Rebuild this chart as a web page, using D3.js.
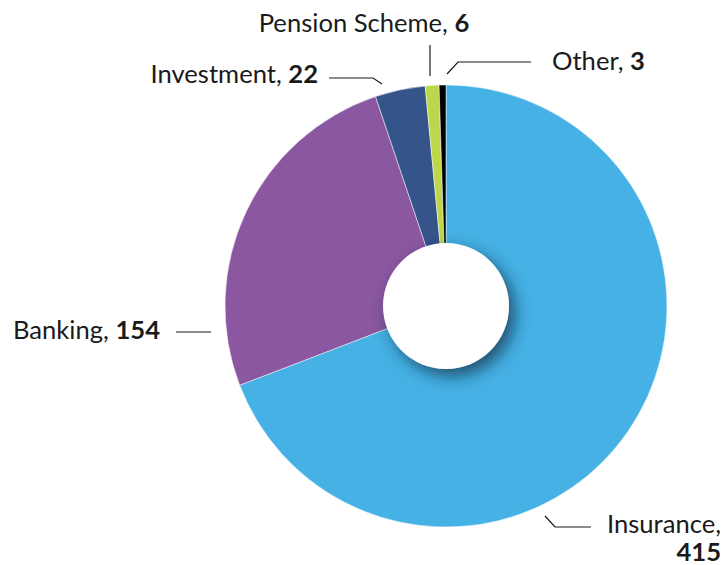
<!DOCTYPE html>
<html>
<head>
<meta charset="utf-8">
<script src="https://cdn.jsdelivr.net/npm/d3@7"></script>
<style>
  body { margin: 0; background: #fff; }
  text { font-family: Lato, "Open Sans", sans-serif; font-size: 25.6px; fill: #1a1a1a; }
  .val { font-weight: bold; }
</style>
</head>
<body>
<svg width="724" height="565"></svg>
<script>

var categories = ["Insurance", "Banking", "Investment", "Pension Scheme", "Other"];
var values = [415, 154, 22, 6, 3];
var colors = ["#45b1e5", "#8a57a0", "#35548a", "#bcd74a", "#000000"];

// label placement (relative to the donut centre): connector points, text anchor
var labelLayout = [
  {line: [[99, 210], [109, 221], [145, 221]], x: 275, y: 227, anchor: "end", wrap: true},
  {line: [[-235, 26], [-270, 26]], x: -286, y: 33, anchor: "end"},
  {line: [[-64, -222], [-73, -228], [-117, -228]], x: -128, y: -223, anchor: "end"},
  {line: [[-16, -230], [-16, -261]], x: -82, y: -274, anchor: "middle"},
  {line: [[1, -232], [12, -244], [85, -244]], x: 106, y: -236, anchor: "start"}
];

var svg = d3.select("svg"),
    cx = 446, cy = 306,
    outerR = 221, innerR = 63;

var data = categories.map(function(c, i) { return {name: c, value: values[i], color: colors[i], layout: labelLayout[i]}; });

var pie = d3.pie()
    .sort(null)
    .value(function(d) { return d.value; });

var arc = d3.arc()
    .innerRadius(0)
    .outerRadius(outerR);

var defs = svg.append("defs");
var f = defs.append("filter")
    .attr("id", "shadow")
    .attr("x", "-50%").attr("y", "-50%")
    .attr("width", "200%").attr("height", "200%");
f.append("feDropShadow")
    .attr("dx", 6).attr("dy", 7)
    .attr("stdDeviation", 8)
    .attr("flood-color", "#0d2a40")
    .attr("flood-opacity", 0.7);

var g = svg.append("g").attr("transform", "translate(" + cx + "," + cy + ")");

g.selectAll("path.slice")
    .data(pie(data))
  .enter().append("path")
    .attr("class", "slice")
    .attr("d", arc)
    .attr("fill", function(d) { return d.data.color; })
    .attr("stroke", "#fff")
    .attr("stroke-width", 0.5);

g.append("circle")
    .attr("r", innerR)
    .attr("fill", "#fff")
    .attr("filter", "url(#shadow)");

var line = d3.line();

var labels = g.selectAll("g.label")
    .data(data)
  .enter().append("g")
    .attr("class", "label");

labels.append("path")
    .attr("d", function(d) { return line(d.layout.line); })
    .attr("fill", "none")
    .attr("stroke", "#1a1a1a")
    .attr("stroke-width", 1.2);

labels.each(function(d) {
  var t = d3.select(this).append("text")
      .attr("x", d.layout.x)
      .attr("y", d.layout.y)
      .attr("text-anchor", d.layout.anchor);
  if (d.layout.wrap) {
    t.append("tspan").text(d.name + ",");
    t.append("tspan").attr("class", "val")
        .attr("x", d.layout.x).attr("dy", 28).text(d.value);
  } else {
    t.append("tspan").text(d.name + ", ");
    t.append("tspan").attr("class", "val").text(d.value);
  }
});

</script>
</body>
</html>
